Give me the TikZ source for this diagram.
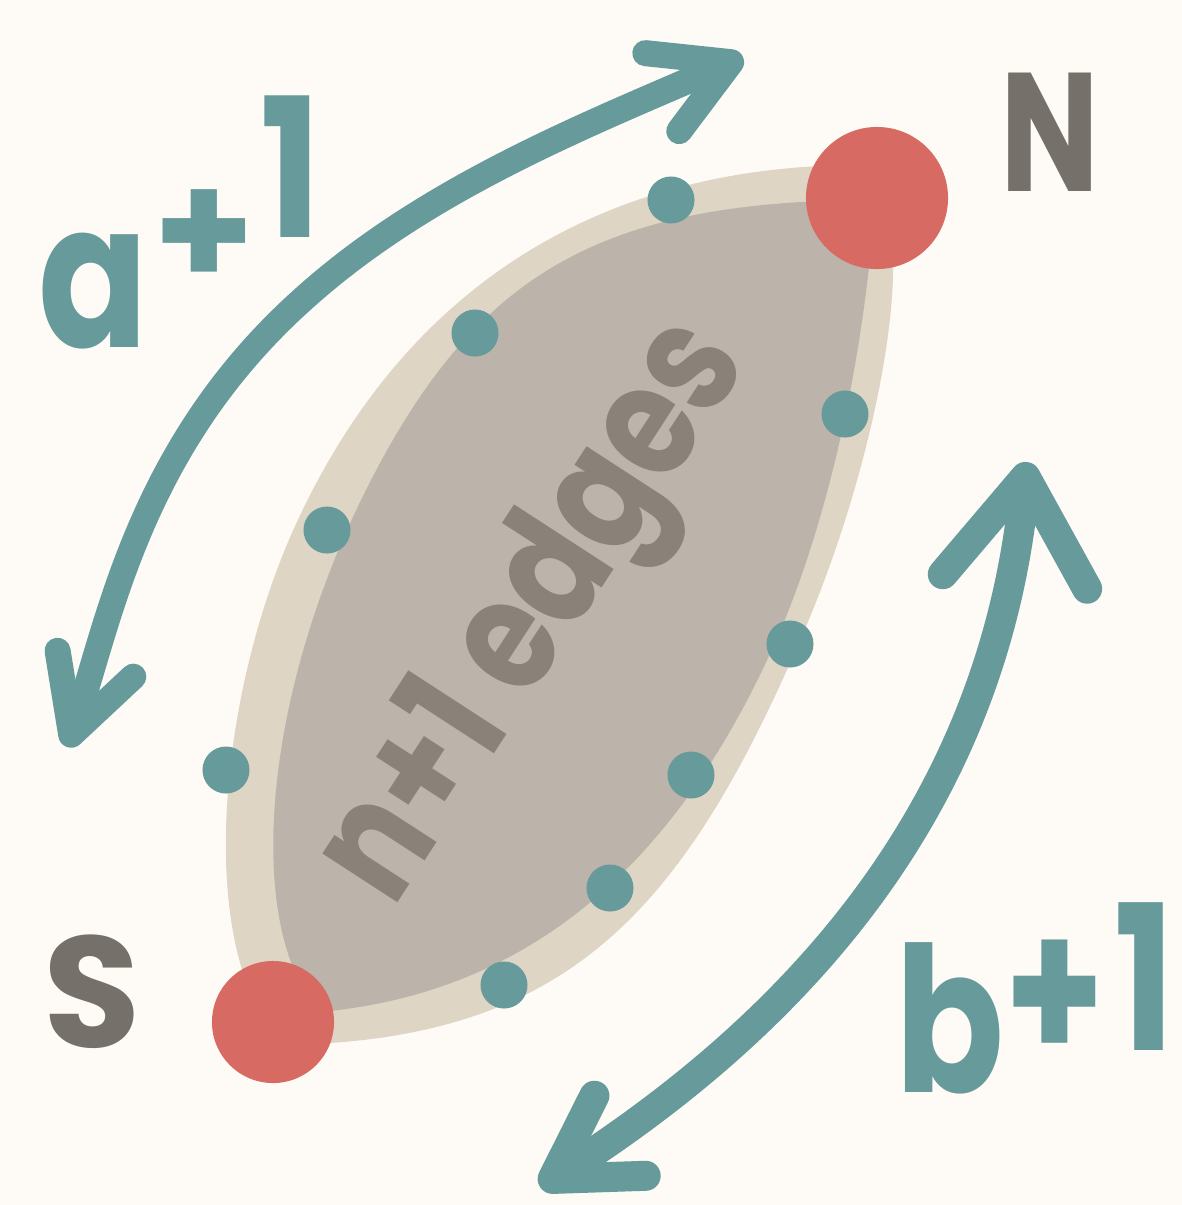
\documentclass[tikz,border=0pt]{standalone}
\usepackage{fontspec}
\setmainfont{Poppins}
\usetikzlibrary{arrows.meta}
\definecolor{paper}{HTML}{FEFBF6}
\definecolor{sand}{HTML}{DFD5C4}
\definecolor{stone}{HTML}{BCB3AA}
\definecolor{sea}{HTML}{669A9B}
\definecolor{coral}{HTML}{D76B63}
\definecolor{ink}{HTML}{8A8179}
\definecolor{slate}{HTML}{75706A}

\begin{document}
\begin{tikzpicture}[x=0.01cm, y=-0.01cm, bead/.style={circle, fill=sea, inner sep=0pt, minimum size=4.7mm}, pole/.style={circle, fill=coral, inner sep=0pt}, lbl/.style={text=slate, inner sep=0pt, font=\bfseries\fontsize{48}{56}\selectfont}, cnt/.style={text=sea, inner sep=0pt, font=\bfseries\fontsize{46}{56}\selectfont}, arrA/.style={draw=sea, line width=2.6mm, {Straight Barb[round, length=7.5mm, width=8mm]}-{Straight Barb[round, length=7.5mm, width=8.5mm]}}, arrB/.style={draw=sea, line width=3mm, {Straight Barb[round, length=8mm, width=9.5mm]}-{Straight Barb[round, length=10.5mm, width=14.5mm]}}]
\fill[paper] (0,0) rectangle (1182,1205);
% the lens, rim and inside
\fill[sand] (285,1045) .. controls (195,960) and (215,700) .. (296,524) .. controls (405,287) and (600,165) .. (860,165) .. controls (930,200) and (880,461) .. (798,645) .. controls (678,921) and (560,1040) .. (285,1045) -- cycle;
\fill[stone] (320,1012) .. controls (245,930) and (260,700) .. (367,488) .. controls (475,274) and (600,200) .. (875,200) .. controls (865,350) and (830,520) .. (774,645) .. controls (692,827) and (560,990) .. (320,1012) -- cycle;
\node[text=ink, rotate=57, inner sep=0pt, font=\bfseries\fontsize{38}{46}\selectfont] (edges) at (540,615) {\scalebox{0.97}[1.2]{n+1 edges}};
% arrows
\coordinate (aLow) at (67,747); \coordinate (aMid) at (301,301); \coordinate (aHigh) at (743,57);
\coordinate (bLow) at (540,1187); \coordinate (bHigh) at (1027,462);
\draw[arrA] (aLow) .. controls (109,624) and (138,448) .. (aMid) .. controls (425,188) and (589,124) .. (aHigh);
\draw[arrB] (bLow) .. controls (818,1009) and (994,790) .. (bHigh);
% dots on the two paths
\foreach \p [count=\i] in {(671,200),(475,333),(327,530),(226,770),(845,414),(790,644),(691,775),(610,888),(504,985)}
  \node[bead] (d\i) at \p {};
\node[pole, minimum size=14.2mm] (north) at (877,198) {};
\node[pole, minimum size=12.2mm] (south) at (273,1022) {};
\node[lbl] (lblN) at (1050,132) {\scalebox{0.78}[1]{N}};
\node[lbl, font=\bfseries\fontsize{45}{54}\selectfont] (lblS) at (92,992) {S};
\node[cnt, anchor=south west] (lblA) at (38,350) {\scalebox{1}[1.25]{a}\hspace{0.5mm}\raisebox{6mm}{+}\hspace{0.5mm}\raisebox{11mm}{\scalebox{1}[1.2]{1}}};
\node[cnt, anchor=south west] (lblB) at (895,1095) {\scalebox{0.95}[1.2]{\fontsize{48}{56}\selectfont b\raisebox{2.5mm}{+}\hspace{1mm}\raisebox{3.5mm}{1}}};
\end{tikzpicture}
\end{document}
